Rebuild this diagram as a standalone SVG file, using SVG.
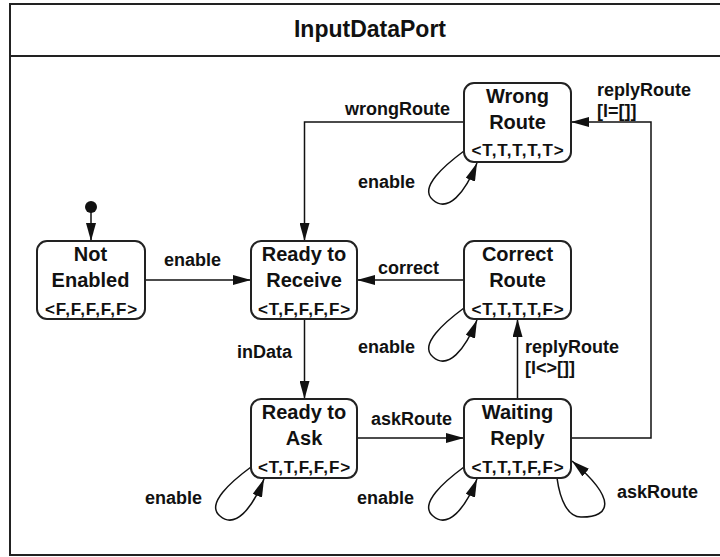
<svg xmlns="http://www.w3.org/2000/svg" width="720" height="557" viewBox="0 0 720 557">
<defs>
<style>
.frame{fill:#fff;stroke:#222;stroke-width:2}
.node rect{fill:#fff;stroke:#222;stroke-width:2}
.nm{font-family:"Liberation Sans",Arial,sans-serif;font-weight:bold;font-size:20px;text-anchor:middle;fill:#111}
.st{font-family:"Liberation Sans",Arial,sans-serif;font-weight:bold;font-size:17px;letter-spacing:0.9px;text-anchor:middle;fill:#111}
.lbl{font-family:"Liberation Sans",Arial,sans-serif;font-weight:bold;font-size:18px;fill:#111}
.title{font-family:"Liberation Sans",Arial,sans-serif;font-weight:bold;font-size:23px;text-anchor:middle;fill:#111}
.edge{fill:none;stroke:#111;stroke-width:1.5;marker-end:url(#arr)}
</style>
<marker id="arr" markerUnits="userSpaceOnUse" markerWidth="18" markerHeight="10" refX="18" refY="5" orient="auto">
<path d="M0,0 L18,5 L0,10 z" fill="#111"/>
</marker>
</defs>
<rect width="720" height="557" fill="#fff"/>
<g id="frame">
<rect class="frame" x="10" y="4" width="730" height="551"/>
<line x1="10" y1="56" x2="740" y2="56" stroke="#222" stroke-width="2"/>
<text class="title" x="370" y="37">InputDataPort</text>
</g>
<g id="connectors">
<circle cx="91" cy="207" r="6" fill="#111"/>
<path class="edge" d="M91,212 L91,241"/>
<path class="edge" d="M145,280 L251,280"/>
<path class="edge" d="M464,122 L304.5,122 L304.5,241"/>
<path class="edge" d="M464,280 L357,280"/>
<path class="edge" d="M304.5,319 L304.5,399"/>
<path class="edge" d="M357,438 L464,438"/>
<path class="edge" d="M517.5,399 L517.5,319"/>
<path class="edge" d="M571,438 L651,438 L651,122 L571,122"/>
<path class="edge" d="M464,151 C445,165 418,188 433,200 C448,213 465,193 477,163"/>
<path class="edge" d="M464,308 C445,322 418,345 433,357 C448,370 465,350 477,320"/>
<path class="edge" d="M251,467 C232,481 205,504 220,516 C235,529 252,509 264,479"/>
<path class="edge" d="M464,467 C445,481 418,504 433,516 C448,529 465,509 477,479"/>
<path class="edge" d="M557,478 C560,500 568,518 582,517 C610,517 618,500 572,461"/>
<text class="lbl" x="164" y="266">enable</text>
<text class="lbl" x="345" y="115">wrongRoute</text>
<text class="lbl" x="378" y="274">correct</text>
<text class="lbl" x="237" y="358">inData</text>
<text class="lbl" x="371" y="425">askRoute</text>
<text class="lbl" x="525" y="353">replyRoute</text>
<text class="lbl" x="525" y="374">[l&lt;&gt;[]]</text>
<text class="lbl" x="597" y="96">replyRoute</text>
<text class="lbl" x="597" y="117">[l=[]]</text>
<text class="lbl" x="358" y="188">enable</text>
<text class="lbl" x="358" y="353">enable</text>
<text class="lbl" x="145" y="504">enable</text>
<text class="lbl" x="357" y="504">enable</text>
<text class="lbl" x="617" y="498">askRoute</text>
</g>
<g id="notEnabled" class="node">
<rect x="37" y="241" width="108" height="78" rx="10"/>
<text class="nm" x="90.5" y="261">Not</text>
<text class="nm" x="90.5" y="287">Enabled</text>
<text class="st" x="91.5" y="315">&lt;F,F,F,F,F&gt;</text>
</g>
<g id="readyToReceive" class="node">
<rect x="251" y="241" width="106" height="78" rx="10"/>
<text class="nm" x="304" y="261">Ready to</text>
<text class="nm" x="304" y="287">Receive</text>
<text class="st" x="304.5" y="315">&lt;T,F,F,F,F&gt;</text>
</g>
<g id="wrongRoute" class="node">
<rect x="464" y="83" width="107" height="79" rx="10"/>
<text class="nm" x="517.5" y="103">Wrong</text>
<text class="nm" x="517.5" y="129">Route</text>
<text class="st" x="518" y="156">&lt;T,T,T,T,T&gt;</text>
</g>
<g id="correctRoute" class="node">
<rect x="464" y="241" width="107" height="78" rx="10"/>
<text class="nm" x="517.5" y="261">Correct</text>
<text class="nm" x="517.5" y="287">Route</text>
<text class="st" x="518" y="315">&lt;T,T,T,T,F&gt;</text>
</g>
<g id="readyToAsk" class="node">
<rect x="251" y="399" width="106" height="79" rx="10"/>
<text class="nm" x="304" y="419">Ready to</text>
<text class="nm" x="304" y="445">Ask</text>
<text class="st" x="304.5" y="473">&lt;T,T,F,F,F&gt;</text>
</g>
<g id="waitingReply" class="node">
<rect x="464" y="399" width="107" height="79" rx="10"/>
<text class="nm" x="517.5" y="419">Waiting</text>
<text class="nm" x="517.5" y="445">Reply</text>
<text class="st" x="518" y="473">&lt;T,T,T,F,F&gt;</text>
</g>
</svg>
